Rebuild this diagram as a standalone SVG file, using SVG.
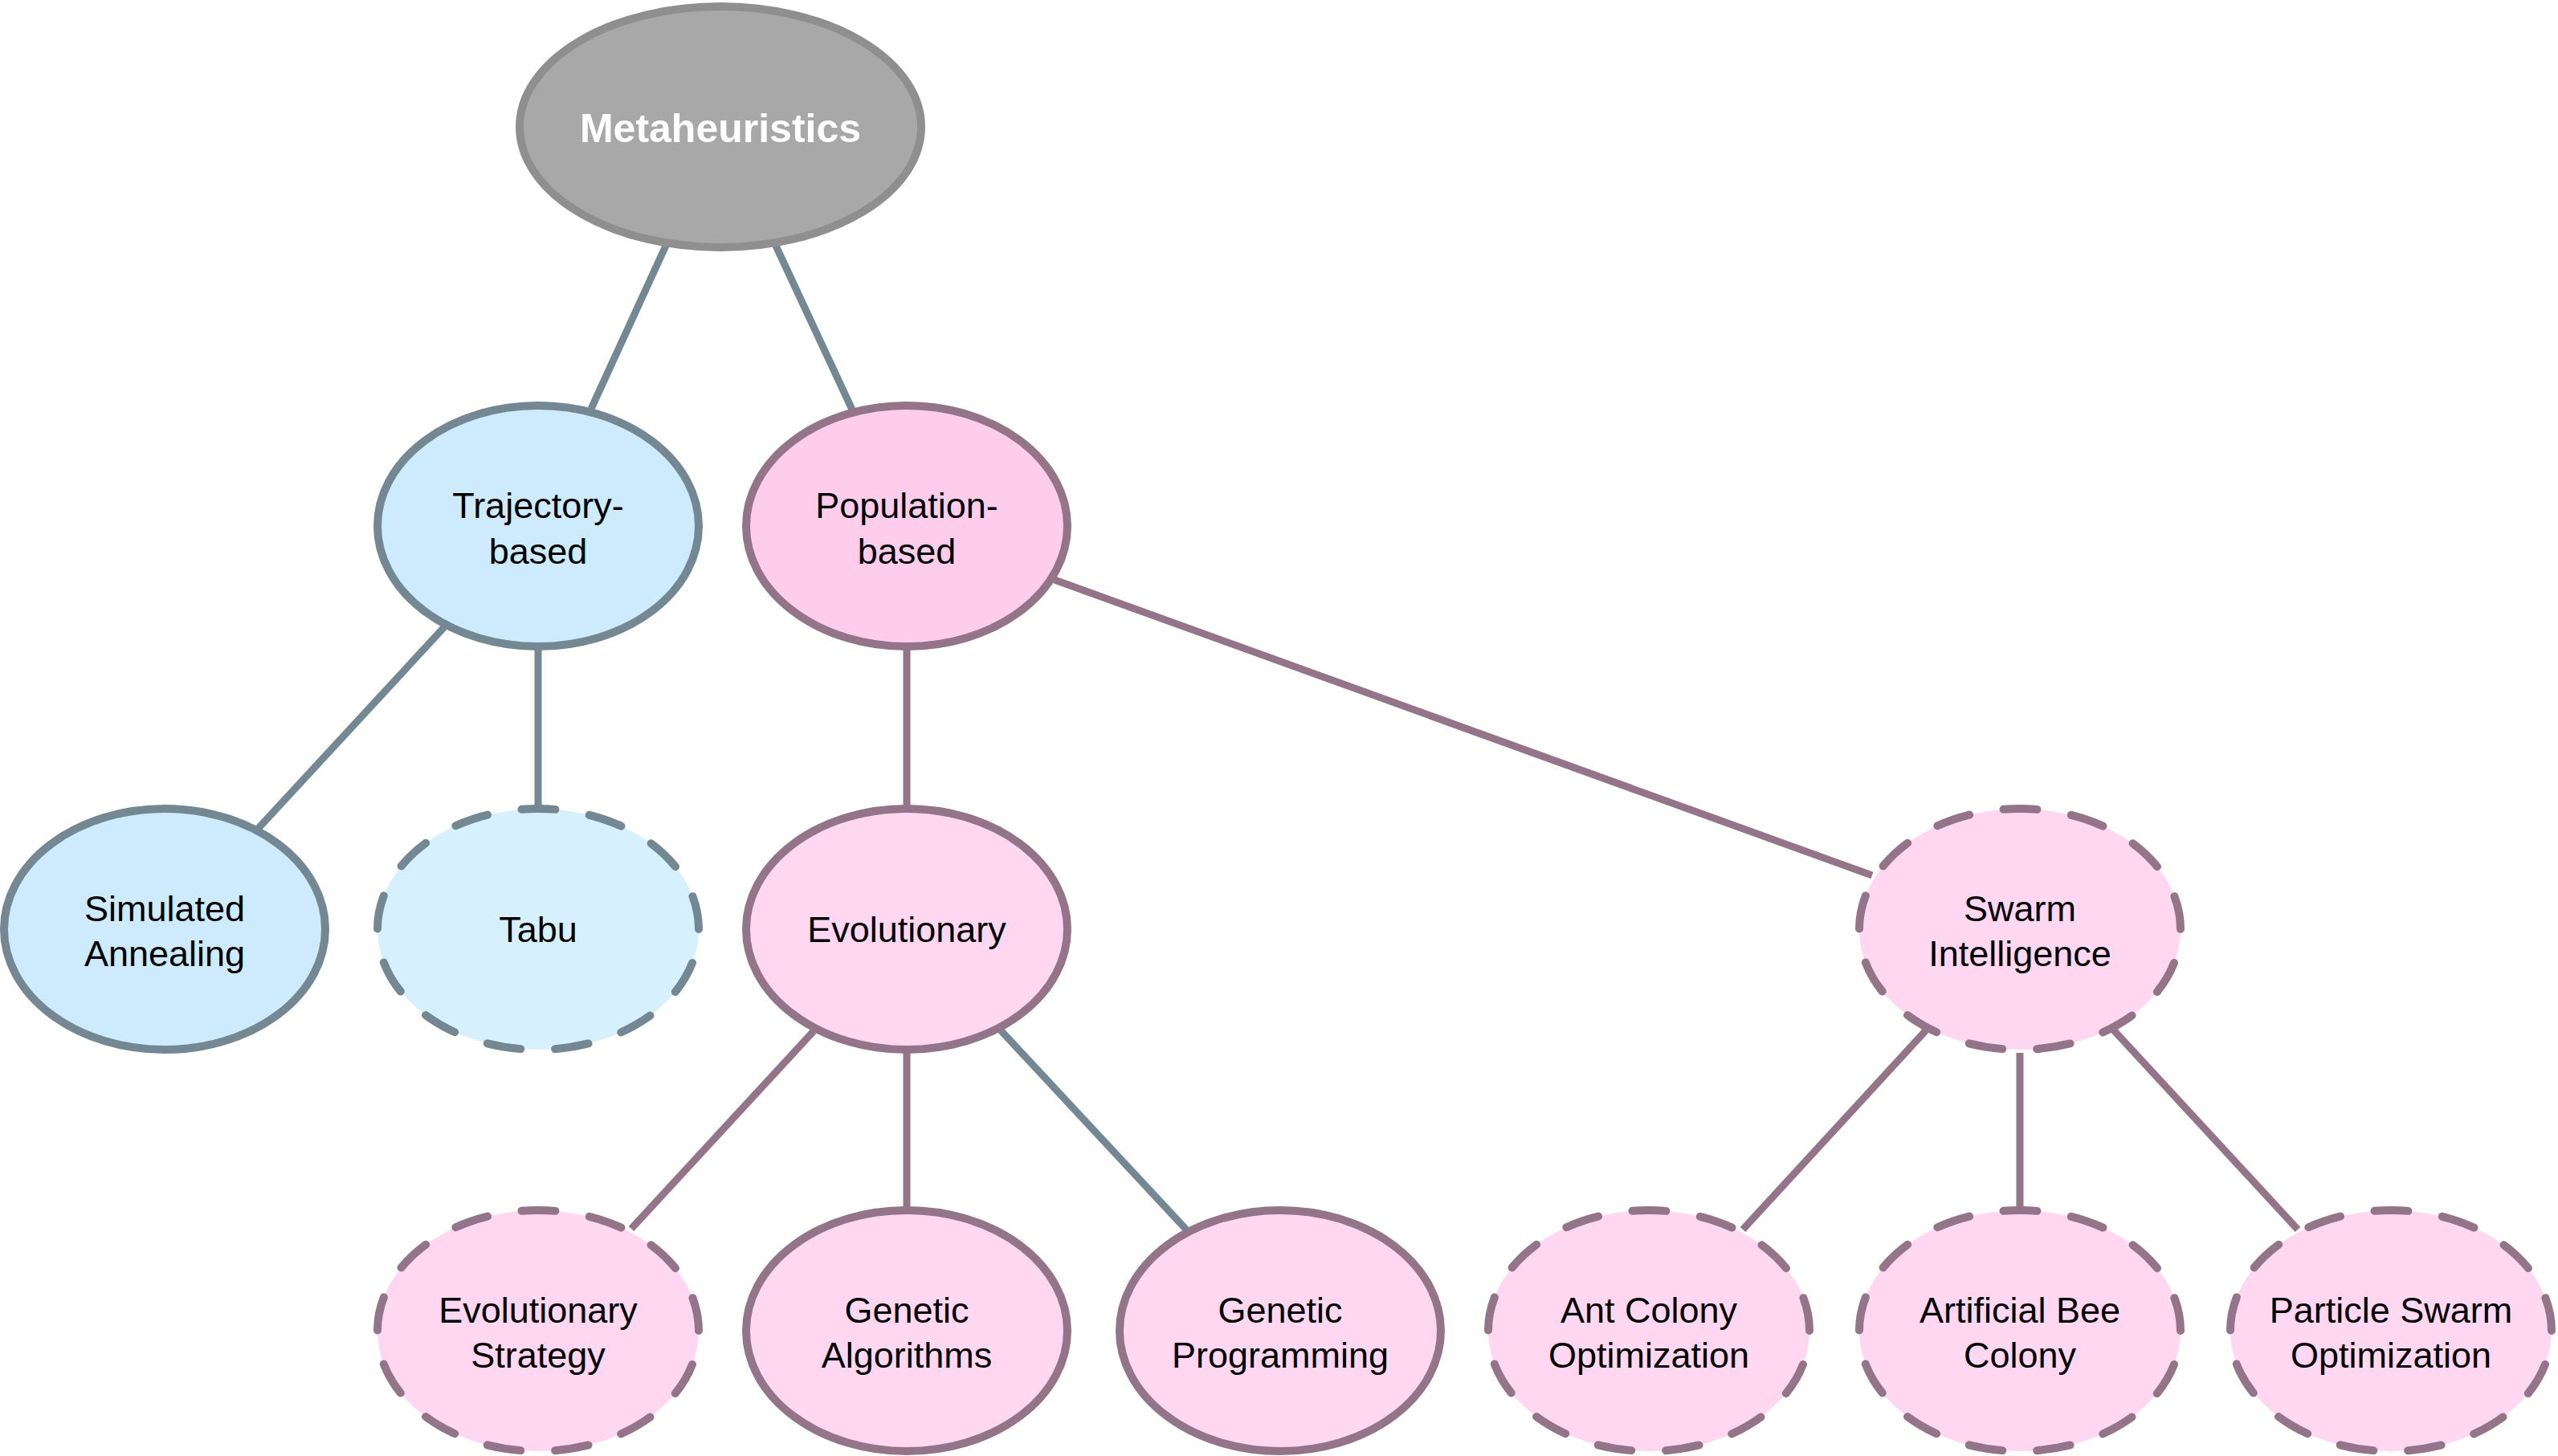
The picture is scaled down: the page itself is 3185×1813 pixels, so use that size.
<svg xmlns="http://www.w3.org/2000/svg" width="3185" height="1813" viewBox="0 0 3185 1813">
<style>
text{font-family:"Liberation Sans",Arial,sans-serif;font-size:45px;fill:#000;text-anchor:middle}
.root text{font-size:50px;font-weight:bold;fill:#fff}
ellipse{stroke-width:10}
.dash{stroke-dasharray:42 43;stroke-dashoffset:42;stroke-linecap:round}
.blue ellipse{fill:#cdebfd;stroke:#738892}
.blue2 ellipse{fill:#d6f1fd;stroke:#738892}
.pink ellipse{fill:#ffcdec;stroke:#937488}
.pink2 ellipse{fill:#ffd7f1;stroke:#937488}
#edges line{stroke-width:9;stroke-linecap:butt}
.s{stroke:#738892}
.m{stroke:#937488}
</style>
<rect width="3185" height="1813" fill="#fff"/>
<g id="edges">
<line class="s" x1="829" y1="306" x2="736" y2="509"/>
<line class="s" x1="966" y1="306" x2="1061" y2="510"/>
<line class="s" x1="553" y1="781" x2="322" y2="1031"/>
<line class="s" x1="670" y1="809" x2="670" y2="1003"/>
<line class="m" x1="1129" y1="809" x2="1129" y2="1003"/>
<line class="m" x1="1313" y1="722" x2="2331" y2="1090"/>
<line class="m" x1="1013" y1="1284" x2="786" y2="1530"/>
<line class="m" x1="1129" y1="1311" x2="1129" y2="1503"/>
<line class="s" x1="1246" y1="1283" x2="1477" y2="1531"/>
<line class="m" x1="2398" y1="1283" x2="2170" y2="1531"/>
<line class="m" x1="2515" y1="1311" x2="2515" y2="1503"/>
<line class="m" x1="2632" y1="1283" x2="2861" y2="1531"/>
</g>
<g id="metaheuristics" class="root"><ellipse cx="897" cy="158" rx="250" ry="150" fill="#a8a8a8" stroke="#8f8f8f"/><text x="897" y="177">Metaheuristics</text></g>
<g id="trajectory" class="blue"><ellipse cx="670" cy="655" rx="200" ry="150"/><text x="670" y="645">Trajectory-</text><text x="670" y="702">based</text></g>
<g id="population" class="pink"><ellipse cx="1129" cy="655" rx="200" ry="150"/><text x="1129" y="645">Population-</text><text x="1129" y="702">based</text></g>
<g id="simulated-annealing" class="blue"><ellipse cx="205" cy="1157" rx="200" ry="150"/><text x="205" y="1147">Simulated</text><text x="205" y="1203">Annealing</text></g>
<g id="tabu" class="blue2"><ellipse class="dash" cx="670" cy="1157" rx="200" ry="150"/><text x="670" y="1173">Tabu</text></g>
<g id="evolutionary" class="pink2"><ellipse cx="1129" cy="1157" rx="200" ry="150"/><text x="1129" y="1173">Evolutionary</text></g>
<g id="swarm" class="pink2"><ellipse class="dash" cx="2515" cy="1157" rx="200" ry="150"/><text x="2515" y="1147">Swarm</text><text x="2515" y="1203">Intelligence</text></g>
<g id="evolutionary-strategy" class="pink2"><ellipse class="dash" cx="670" cy="1657" rx="200" ry="150"/><text x="670" y="1647">Evolutionary</text><text x="670" y="1703">Strategy</text></g>
<g id="genetic-algorithms" class="pink2"><ellipse cx="1129" cy="1657" rx="200" ry="150"/><text x="1129" y="1647">Genetic</text><text x="1129" y="1703">Algorithms</text></g>
<g id="genetic-programming" class="pink2"><ellipse cx="1594" cy="1657" rx="200" ry="150"/><text x="1594" y="1647">Genetic</text><text x="1594" y="1703">Programming</text></g>
<g id="ant-colony" class="pink2"><ellipse class="dash" cx="2053" cy="1657" rx="200" ry="150"/><text x="2053" y="1647">Ant Colony</text><text x="2053" y="1703">Optimization</text></g>
<g id="artificial-bee" class="pink2"><ellipse class="dash" cx="2515" cy="1657" rx="200" ry="150"/><text x="2515" y="1647">Artificial Bee</text><text x="2515" y="1703">Colony</text></g>
<g id="particle-swarm" class="pink2"><ellipse class="dash" cx="2977" cy="1657" rx="200" ry="150"/><text x="2977" y="1647">Particle Swarm</text><text x="2977" y="1703">Optimization</text></g>
</svg>
